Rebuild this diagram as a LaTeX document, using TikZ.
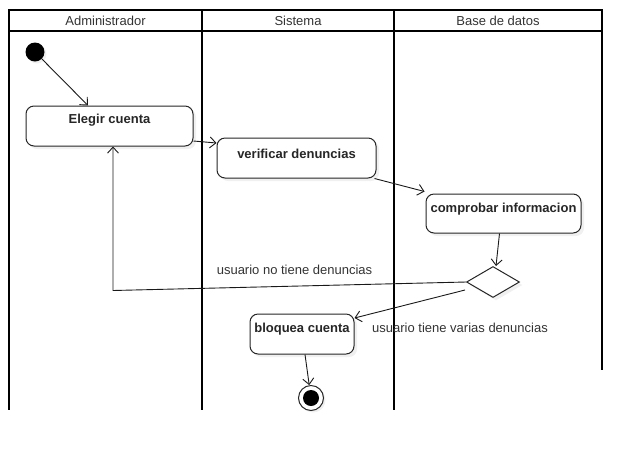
\documentclass[tikz,border=0pt]{standalone}
\usepackage{fontspec}
\setmainfont{Liberation Sans}
\usetikzlibrary{arrows.meta,shapes.geometric,shadows,calc}
\definecolor{txt}{HTML}{333333}
\tikzset{
  lane/.style={line width=1.6pt, black},
  act/.style={draw=black!85, line width=1pt, rounded corners=8pt, fill=white,
    drop shadow={shadow xshift=3pt, shadow yshift=-3pt, opacity=0.12},
    inner sep=0pt},
  acttext/.style={font=\fontsize{13}{15}\selectfont\bfseries, text=black!85},
  lbl/.style={font=\fontsize{13}{15}\selectfont, text=txt, inner sep=0pt},
  arr/.style={draw=black!90, line width=0.9pt, -{Straight Barb[length=6pt,width=11pt]}},
  conn/.style={draw=black!90, line width=0.9pt},
}
\begin{document}
\begin{tikzpicture}[x=1pt,y=-1pt]
\useasboundingbox (0,0) rectangle (642,451);
% swimlanes
\draw[lane] (9,10) rectangle (602,31);
\draw[lane] (9,31) -- (9,410);
\draw[lane] (202,10) -- (202,410);
\draw[lane] (394,10) -- (394,410);
\draw[lane] (602,31) -- (602,370);
\node[lbl] (h1) at (105.5,20.5) {Administrador};
\node[lbl] (h2) at (298,20.5) {Sistema};
\node[lbl] (h3) at (498,20.5) {Base de datos};
% start
\node[circle, fill=black, minimum size=19pt, inner sep=0pt,
  drop shadow={shadow xshift=2pt, shadow yshift=-2pt, opacity=0.12}] (s) at (35,52) {};
% activities
\node[act, minimum width=167pt, minimum height=40pt,
  label={[acttext, anchor=center, label distance=-15pt]north:Elegir cuenta}] (e) at (109.5,126) {};
\node[act, minimum width=159pt, minimum height=40pt,
  label={[acttext, anchor=center, label distance=-16pt]north:verificar denuncias}] (v) at (296.5,158) {};
\node[act, minimum width=155pt, minimum height=39pt,
  label={[acttext, anchor=center, label distance=-16pt]north:comprobar informacion}] (c) at (503.5,213.5) {};
\node[act, minimum width=104pt, minimum height=40pt,
  label={[acttext, anchor=center, label distance=-16pt]north:bloquea cuenta}] (b) at (302,334) {};
% decision
\node[diamond, draw=black!85, line width=1pt, fill=white, minimum width=53pt, minimum height=31pt, inner sep=0pt,
  drop shadow={shadow xshift=3pt, shadow yshift=-3pt, opacity=0.12}] (d) at (493,282) {};
% end
\node[circle, draw=black!85, line width=1pt, fill=white, minimum size=25pt, inner sep=0pt,
  drop shadow={shadow xshift=2pt, shadow yshift=-2pt, opacity=0.12}] (f) at (311,398) {};
\node[circle, fill=black, minimum size=16pt, inner sep=0pt] (fi) at (311,398) {};
% connectors
\draw[arr] (s) -- ([xshift=-21.5pt]e.north);
\draw[arr] ([yshift=-15pt]e.east) -- ([yshift=15pt]v.west);
\draw[arr] ([xshift=-2pt]v.south east) -- ([xshift=-1pt,yshift=2pt]c.north west);
\draw[arr] ([xshift=-4pt]c.south) -- ([xshift=3pt]d.north);
\coordinate (k) at (113,290.5);
\draw[arr] (d.west) -- (k) -- (k |- e.south);
\coordinate (dl) at (465,290);
\draw[arr] (dl) -- ([yshift=16pt]b.east);
\draw[arr] ([xshift=3pt]b.south) -- (f);
% labels
\node[lbl] (l1) at (294.5,269.5) {usuario no tiene denuncias};
\node[lbl] (l2) at (460,327.5) {usuario tiene varias denuncias};
\end{tikzpicture}
\end{document}
